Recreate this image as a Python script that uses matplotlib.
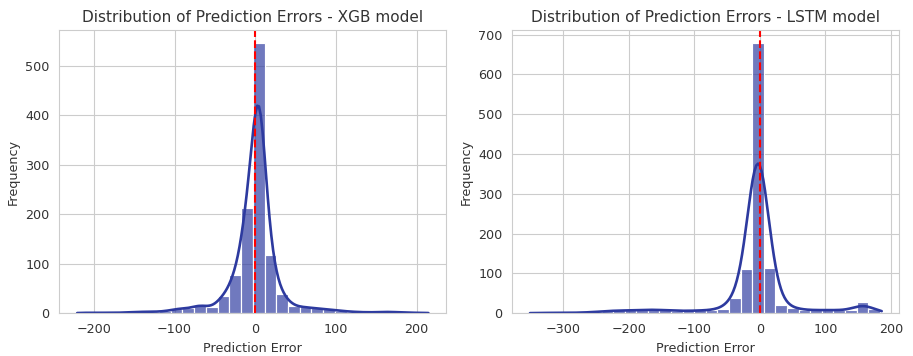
import numpy as np
import matplotlib
matplotlib.use('Agg')
import matplotlib.pyplot as plt
import seaborn as sns

# histogram counts (30 bins each)
xgb_range = (-221, 215)
xgb_counts = [1, 1, 1, 1, 2, 3, 3, 4, 9, 10, 17, 12, 35, 78, 213,
              545, 118, 38, 15, 12, 10, 8, 5, 3, 2, 2, 3, 2, 1, 1]

lstm_range = (-348, 183)
lstm_counts = [1, 1, 1, 1, 2, 3, 6, 7, 7, 9, 9, 8, 6, 6, 7,
               8, 12, 38, 111, 678, 113, 22, 14, 8, 8, 8, 8, 7, 29, 10]

models = ['XGB', 'LSTM']

sns.set_style('whitegrid')
plt.rcParams['font.family'] = ['DejaVu Sans']

fig, axes = plt.subplots(1, 2, figsize=(9.13, 3.56), dpi=100)
fig.subplots_adjust(left=0.065, right=0.985, top=0.916, bottom=0.12, wspace=0.171)

for ax, name, rng, counts in zip(axes, models, [xgb_range, lstm_range], [xgb_counts, lstm_counts]):
    edges = np.linspace(rng[0], rng[1], len(counts) + 1)
    centers = (edges[:-1] + edges[1:]) / 2
    errors = np.repeat(centers, counts)
    sns.histplot(errors, bins=edges, kde=True, ax=ax, color='#2D3A9F', alpha=0.68,
                 line_kws={'linewidth': 1.9}, kde_kws={'cut': 0.8})
    ax.axvline(0, color='red', linestyle='--', linewidth=1.5)
    ax.set_title('Distribution of Prediction Errors - ' + name + ' model', fontsize=11, color='#333333')
    ax.set_xlabel('Prediction Error', fontsize=9.2, color='#333333')
    ax.set_ylabel('Frequency', fontsize=9.2, color='#333333')
    ax.tick_params(labelsize=9.2, labelcolor='#333333')

fig.savefig('out.png', dpi=100)
